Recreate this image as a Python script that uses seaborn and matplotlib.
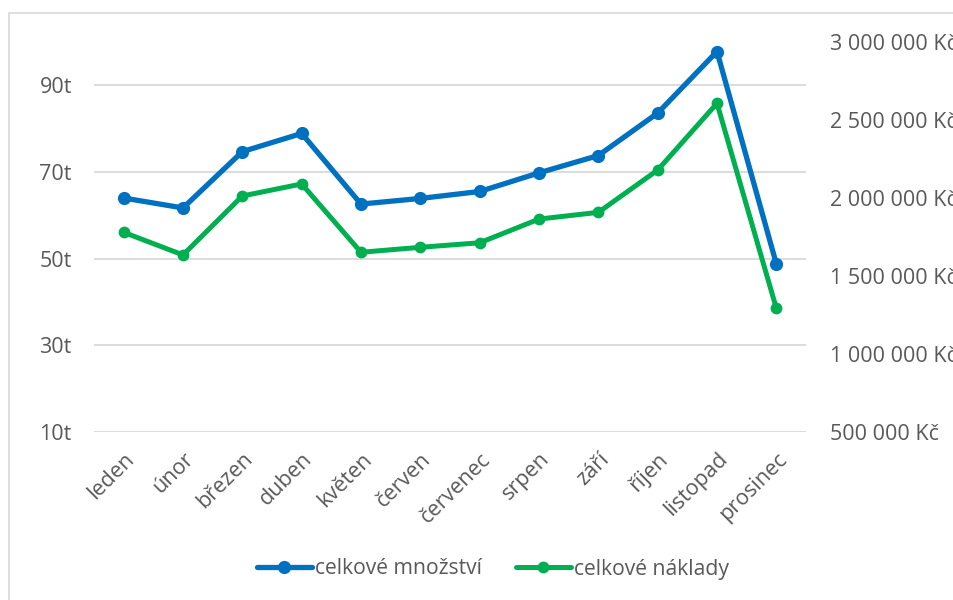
import matplotlib
matplotlib.use("Agg")
import matplotlib.pyplot as plt
from matplotlib.lines import Line2D
from matplotlib.patches import Rectangle
from matplotlib.ticker import FuncFormatter, MultipleLocator
import seaborn as sns
import pandas as pd

months = ["leden", "únor", "březen", "duben", "květen", "červen",
          "červenec", "srpen", "září", "říjen", "listopad", "prosinec"]
mnozstvi_t = [64.0, 61.7, 74.7, 78.9, 62.6, 63.9, 65.5, 69.8, 73.8, 83.6, 97.8, 48.8]
naklady_kc = [1780000, 1635000, 2013000, 2090000, 1652000, 1684000,
              1713000, 1865000, 1908000, 2179000, 2607000, 1293000]
label_mnozstvi = "celkové množství"
label_naklady = "celkové náklady"

BLUE = "#0070C0"
GREEN = "#00B050"
TEXT = "#595959"
GRID = "#D9D9D9"

sns.set_theme(style="white")
plt.rcParams["font.family"] = ["Open Sans", "DejaVu Sans"]

df = pd.DataFrame({"mesic": months, "mnozstvi": mnozstvi_t, "naklady": naklady_kc})

fig = plt.figure(figsize=(9.54, 6.0), dpi=100)
ax = fig.add_axes([94 / 954, 1 - 432 / 600, (806 - 94) / 954, (432 - 42) / 600])
ax2 = ax.twinx()

sns.lineplot(data=df, x="mesic", y="mnozstvi", ax=ax, color=BLUE, lw=3.8,
             marker="o", markersize=9.5, markeredgewidth=0, sort=False, zorder=3)
sns.lineplot(data=df, x="mesic", y="naklady", ax=ax2, color=GREEN, lw=3.6,
             marker="o", markersize=8.5, markeredgewidth=0, sort=False, zorder=3)

ax.set_xlim(-0.5, len(months) - 0.5)
ax.set_ylim(10, 100)
ax.set_yticks([10, 30, 50, 70, 90])
ax.yaxis.set_major_formatter(FuncFormatter(lambda v, p: f"{v:.0f}t"))
ax.grid(axis="y", color=GRID, lw=1.3)
ax.grid(axis="x", visible=False)

ax2.set_ylim(500000, 3000000)
ax2.yaxis.set_major_locator(MultipleLocator(500000))
ax2.yaxis.set_major_formatter(
    FuncFormatter(lambda v, p: f"{int(round(v)):,}".replace(",", " ") + " Kč"))
ax2.grid(False)

for a in (ax, ax2):
    for s in a.spines.values():
        s.set_visible(False)
    a.set_xlabel("")
    a.set_ylabel("")

ax.tick_params(axis="y", length=0, pad=16, labelsize=15.5, labelcolor=TEXT)
ax2.tick_params(axis="y", length=0, pad=17, labelsize=15.5, labelcolor=TEXT)
ax.tick_params(axis="x", length=0, pad=12, labelsize=15.5, labelcolor=TEXT)
ax.set_xticks(range(len(months)))
ax.set_xticklabels(months, rotation=45, ha="right", va="top",
                   rotation_mode="anchor")

handles = [
    Line2D([], [], color=BLUE, lw=3.8, marker="o", markersize=9.5, markeredgewidth=0),
    Line2D([], [], color=GREEN, lw=3.6, marker="o", markersize=8.5, markeredgewidth=0),
]
fig.legend(handles, [label_mnozstvi, label_naklady], loc="center",
           bbox_to_anchor=(493 / 954, 1 - 569 / 600), ncol=2, frameon=False,
           fontsize=15.2, labelcolor=TEXT, handlelength=2.6, handletextpad=0.15,
           columnspacing=1.6)

fig.patches.append(Rectangle((9 / 954, -0.1), 2, 0.1 + (600 - 13) / 600,
                             transform=fig.transFigure, fill=False,
                             edgecolor=GRID, lw=1.2))

fig.savefig("out.png", dpi=100, facecolor="white")
